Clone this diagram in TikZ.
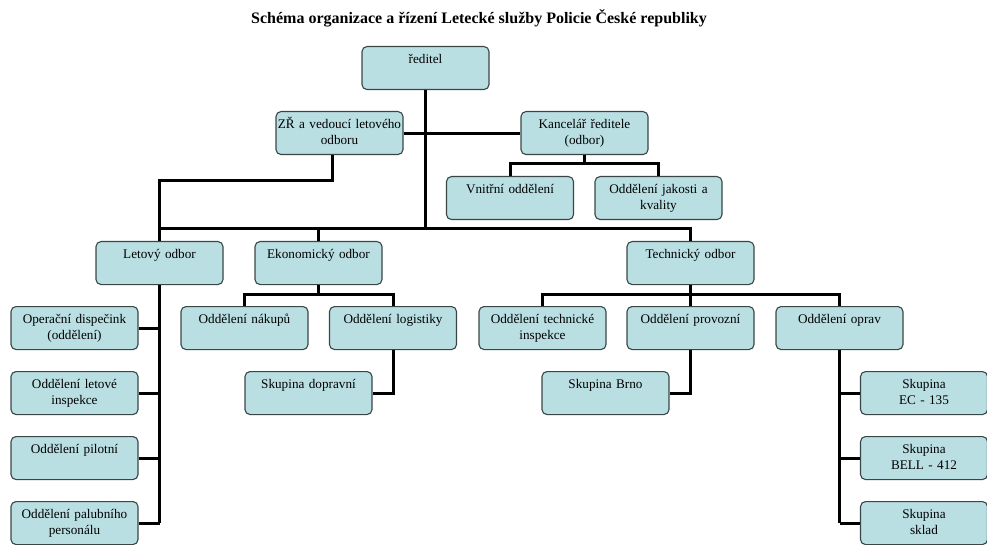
\documentclass[tikz,border=0pt]{standalone}
\usepackage{fontspec}
\setmainfont{Liberation Serif}
\definecolor{boxfill}{HTML}{B9DFE3}
\definecolor{boxline}{HTML}{3A4646}
\begin{document}
\begin{tikzpicture}[x=1pt,y=-1pt,font=\fontsize{13.2}{16}\selectfont,line join=miter,
	unit/.style={draw=boxline,line width=1.1pt,fill=boxfill,rounded corners=5pt,anchor=north,
		text width=127pt,align=center,inner xsep=0pt,inner ysep=3pt,text height=13.5pt,text depth=23.5pt},
	link/.style={line width=3pt}]
			\useasboundingbox (0,0) rectangle (987,545);
			%Nadpis
			\node[font=\fontsize{16}{18}\selectfont\bfseries] (title) at (479,18) {Schéma organizace a řízení Letecké služby Policie České republiky};
			%Vedení
			\node[unit] (dir) at (425.5,46) {ředitel};
			\node[unit] (zr) at (339.5,111) {ZŘ a vedoucí letového\\odboru};
			\node[unit] (kanc) at (584.5,111) {Kancelář ředitele\\(odbor)};
			\node[unit] (vnitr) at (510,176) {Vnitřní oddělení};
			\node[unit] (jak) at (658.5,176) {Oddělení jakosti a\\kvality};
			%Odbory
			\node[unit] (let) at (159.5,241) {Letový odbor};
			\node[unit] (eko) at (318.5,241) {Ekonomický odbor};
			\node[unit] (tech) at (690.5,241) {Technický odbor};
			%Letový odbor
			\node[unit] (oper) at (74.5,306) {Operační dispečink\\(oddělení)};
			\node[unit] (insp) at (74.5,371) {Oddělení letové\\inspekce};
			\node[unit] (pil) at (74.5,436) {Oddělení pilotní};
			\node[unit] (pal) at (74.5,501) {Oddělení palubního\\personálu};
			%Ekonomický odbor
			\node[unit] (nak) at (244.5,306) {Oddělení nákupů};
			\node[unit] (log) at (393,306) {Oddělení logistiky};
			\node[unit] (dop) at (308.5,371) {Skupina dopravní};
			%Technický odbor
			\node[unit] (tin) at (542.5,306) {Oddělení technické\\inspekce};
			\node[unit] (prov) at (690.5,306) {Oddělení provozní};
			\node[unit] (opr) at (839.5,306) {Oddělení oprav};
			\node[unit] (brno) at (605.5,371) {Skupina Brno};
			\node[unit] (ec) at (924,371) {Skupina\\EC - 135};
			\node[unit] (bell) at (924,436) {Skupina\\BELL - 412};
			\node[unit] (skl) at (924,501) {Skupina\\sklad};
			%Spojnice
			\draw[link] (dir.south) -- ([yshift=12pt]dir.south |- let.north);
			\draw[link] (zr.east) -- (kanc.west);
			\draw[link] ([xshift=-7pt]zr.south) -- ++(0,25) -| (let.north);
			\draw[link] (let.north) -- ++(0,-12) -| (tech.north);
			\draw[link] (eko.north) -- ++(0,-12);
			\draw[link] (kanc.south) -- ++(0,10);
			\draw[link] (vnitr.north) -- ++(0,-12) -| (jak.north);
			\draw[link] (let.south) -- (let.south |- pal.east);
			\foreach \n in {oper,insp,pil,pal}
				\draw[link] (\n.east) -- (\n.east -| let.south);
			\draw[link] (eko.south) -- ++(0,10);
			\draw[link] (nak.north) -- ++(0,-12) -| (log.north);
			\draw[link] (log.south) |- (dop.east);
			\draw[link] (tech.south) -- ++(0,10);
			\draw[link] (tin.north) -- ++(0,-12) -| (opr.north);
			\draw[link] (prov.north) -- ++(0,-12);
			\draw[link] (prov.south) |- (brno.east);
			\draw[link] (opr.south) -- (opr.south |- skl.west);
			\foreach \n in {ec,bell,skl}
				\draw[link] (\n.west) -- (\n.west -| opr.south);
		\end{tikzpicture}
\end{document}
